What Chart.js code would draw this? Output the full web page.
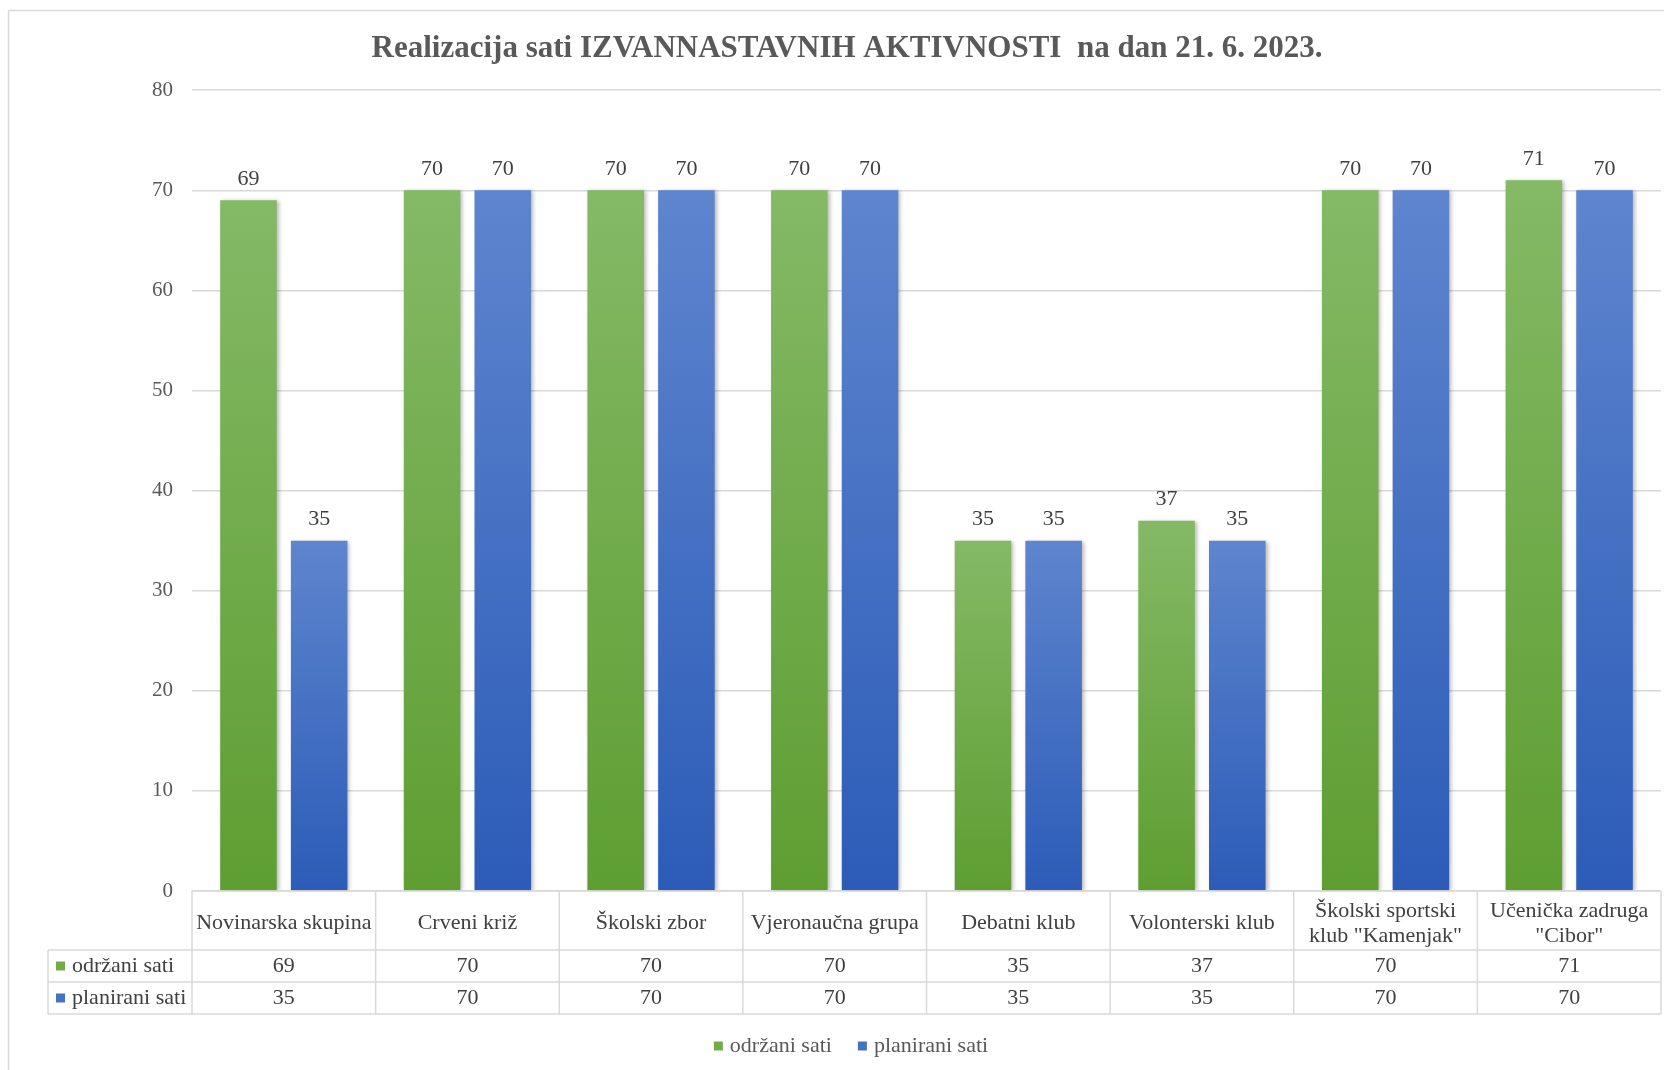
<!DOCTYPE html>
<html>
<head>
<meta charset="utf-8">
<title>Realizacija sati izvannastavnih aktivnosti</title>
<script src="https://cdn.jsdelivr.net/npm/chart.js@4.4.0/dist/chart.umd.min.js"></script>
<style>
  html, body { margin: 0; padding: 0; background: #fff; }
  canvas { display: block; }
</style>
</head>
<body>
<canvas id="chart" width="1664" height="1070"></canvas>
<script>
// podaci
const categories = ['Novinarska skupina', 'Crveni križ', 'Školski zbor', 'Vjeronaučna grupa',
  'Debatni klub', 'Volonterski klub', 'Školski sportski klub "Kamenjak"', 'Učenička zadruga "Cibor"'];
const odrzaniSati = [69, 70, 70, 70, 35, 37, 70, 71];
const planiraniSati = [35, 70, 70, 70, 35, 35, 70, 70];
const seriesNames = ['održani sati', 'planirani sati'];
const yMax = 80;
const yStep = 10;

const FONT = "'Liberation Serif', 'Times New Roman', serif";
const TEXT = '#404040';
const GRID = '#d9d9d9';
const GREEN = { light: '#84b966', dark: '#5e9e31', key: '#70ad47' };
const BLUE = { light: '#5e85ce', dark: '#2c5cb8', key: '#4472c4' };

// gradijent po stupcu (svjetlije gore, tamnije dolje)
function barFill(c) {
  return (ctx) => {
    const chart = ctx.chart;
    if (ctx.type !== 'data' || !chart.chartArea || !chart.scales.y) return c.key;
    const y = chart.scales.y;
    const top = y.getPixelForValue(ctx.raw);
    const bottom = y.getPixelForValue(0);
    if (!isFinite(top) || !isFinite(bottom) || top === bottom) return c.key;
    const g = chart.ctx.createLinearGradient(0, top, 0, bottom);
    g.addColorStop(0, c.light);
    g.addColorStop(1, c.dark);
    return g;
  };
}

// okvir grafikona
const framePlugin = {
  id: 'frame',
  beforeDraw(chart) {
    const { ctx, width, height } = chart;
    ctx.save();
    ctx.fillStyle = '#fff';
    ctx.fillRect(0, 0, width, height);
    ctx.strokeStyle = GRID;
    ctx.lineWidth = 1.5;
    ctx.strokeRect(8.5, 10.5, width + 20, height + 20);
    ctx.restore();
  }
};

// sjena ispod stupaca
const shadowPlugin = {
  id: 'barShadow',
  beforeDatasetsDraw(chart) {
    const ctx = chart.ctx;
    ctx.save();
    ctx.shadowColor = 'rgba(0,0,0,0.28)';
    ctx.shadowBlur = 4;
    ctx.shadowOffsetX = 2;
    ctx.shadowOffsetY = 1;
  },
  afterDatasetsDraw(chart) {
    chart.ctx.restore();
  }
};

// vrijednosti iznad stupaca
const valueLabels = {
  id: 'valueLabels',
  afterDraw(chart) {
    const ctx = chart.ctx;
    ctx.save();
    ctx.font = '22px ' + FONT;
    ctx.fillStyle = TEXT;
    ctx.textAlign = 'center';
    ctx.textBaseline = 'middle';
    chart.data.datasets.forEach((ds, di) => {
      chart.getDatasetMeta(di).data.forEach((bar, i) => {
        ctx.fillText(String(ds.data[i]), bar.x, bar.y - 21);
      });
    });
    ctx.restore();
  }
};

function wrapText(ctx, text, maxW) {
  const words = text.split(' ');
  const lines = [];
  let cur = '';
  words.forEach(w => {
    const test = cur ? cur + ' ' + w : w;
    if (cur && ctx.measureText(test).width > maxW) {
      lines.push(cur);
      cur = w;
    } else {
      cur = test;
    }
  });
  if (cur) lines.push(cur);
  return lines;
}

// tablica podataka ispod osi + legenda
const dataTable = {
  id: 'dataTable',
  afterDraw(chart) {
    const { ctx, chartArea } = chart;
    const n = categories.length;
    const left = chartArea.left, right = chartArea.right;
    const colW = (right - left) / n;
    const top = chartArea.bottom;
    const headH = 59, rowH = 32;
    const labelLeft = 48;
    const bottom = top + headH + 2 * rowH;

    ctx.save();
    ctx.strokeStyle = GRID;
    ctx.lineWidth = 1.5;
    ctx.beginPath();
    ctx.moveTo(left, top); ctx.lineTo(right, top);
    [top + headH, top + headH + rowH, bottom].forEach(y => {
      ctx.moveTo(labelLeft, y); ctx.lineTo(right, y);
    });
    for (let i = 0; i <= n; i++) {
      const x = left + i * colW;
      ctx.moveTo(x, top); ctx.lineTo(x, bottom);
    }
    ctx.moveTo(labelLeft, top + headH); ctx.lineTo(labelLeft, bottom);
    ctx.stroke();

    ctx.font = '22px ' + FONT;
    ctx.fillStyle = TEXT;
    ctx.textAlign = 'center';
    ctx.textBaseline = 'middle';
    const rows = [odrzaniSati, planiraniSati];
    categories.forEach((cat, i) => {
      const cx = left + (i + 0.5) * colW;
      const lines = wrapText(ctx, cat, colW - 4);
      const lh = 25;
      const y0 = top + headH / 2 + 3 - (lines.length - 1) * lh / 2;
      lines.forEach((ln, k) => ctx.fillText(ln, cx, y0 + k * lh));
      rows.forEach((r, ri) => {
        ctx.fillText(String(r[i]), cx, top + headH + rowH * ri + rowH / 2);
      });
    });

    // oznake redaka
    const keys = [GREEN.key, BLUE.key];
    ctx.textAlign = 'left';
    seriesNames.forEach((name, ri) => {
      const cy = top + headH + rowH * ri + rowH / 2;
      ctx.fillStyle = keys[ri];
      ctx.fillRect(labelLeft + 8, cy - 4.5, 9, 9);
      ctx.fillStyle = TEXT;
      ctx.fillText(name, labelLeft + 24, cy);
    });

    // legenda
    const ly = 1046;
    const gap = 26, box = 9, boxGap = 7;
    const widths = seriesNames.map(s => ctx.measureText(s).width);
    const total = widths.reduce((a, w) => a + box + boxGap + w, 0) + gap * (seriesNames.length - 1);
    let x = 851 - total / 2;
    seriesNames.forEach((name, ri) => {
      ctx.fillStyle = keys[ri];
      ctx.fillRect(x, ly - 4.5, box, box);
      x += box + boxGap;
      ctx.fillStyle = '#595959';
      ctx.fillText(name, x, ly);
      x += widths[ri] + gap;
    });
    ctx.restore();
  }
};

new Chart(document.getElementById('chart'), {
  type: 'bar',
  data: {
    labels: categories,
    datasets: [
      { label: seriesNames[0], data: odrzaniSati, backgroundColor: barFill(GREEN) },
      { label: seriesNames[1], data: planiraniSati, backgroundColor: barFill(BLUE) }
    ]
  },
  options: {
    responsive: false,
    animation: false,
    categoryPercentage: 0.77,
    barPercentage: 0.8,
    layout: { padding: { left: 33, right: 3, top: 0, bottom: 179 } },
    scales: {
      x: { display: false },
      y: {
        min: 0, max: yMax,
        ticks: { stepSize: yStep, color: '#595959', padding: 19, font: { family: FONT, size: 21 } },
        grid: { color: GRID, lineWidth: 1.5, drawTicks: false },
        border: { display: false },
        afterFit(scale) { scale.width = 159; }
      }
    },
    plugins: {
      legend: { display: false },
      tooltip: { enabled: false },
      title: {
        display: true,
        text: 'Realizacija sati IZVANNASTAVNIH AKTIVNOSTI  na dan 21. 6. 2023.',
        color: '#595959',
        font: { family: FONT, size: 31, weight: 'bold' },
        padding: { top: 30, bottom: 23 }
      }
    }
  },
  plugins: [framePlugin, shadowPlugin, valueLabels, dataTable]
});
</script>
</body>
</html>
